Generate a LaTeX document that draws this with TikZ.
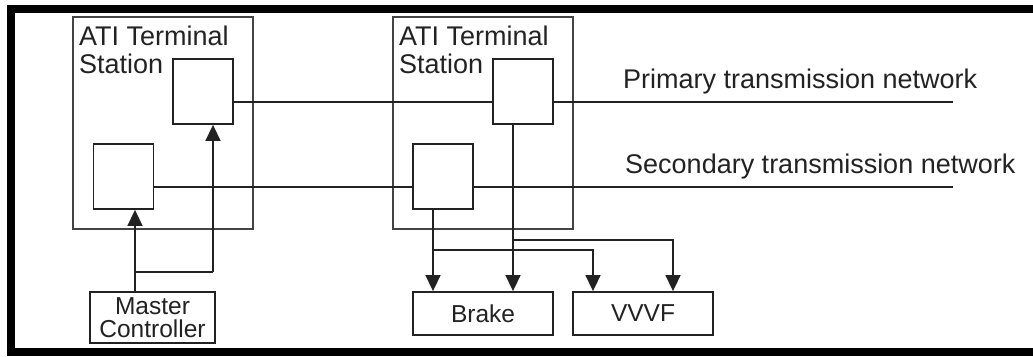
\documentclass[tikz,border=0pt]{standalone}
\usepackage{fontspec}
\setmainfont{Liberation Sans}
\usetikzlibrary{arrows.meta,calc}
\definecolor{cInk}{HTML}{222222}
\definecolor{cBox}{HTML}{444444}
\definecolor{cFrame}{HTML}{000000}

\begin{document}
\begin{tikzpicture}[x=1pt,y=-1pt,
  ar/.style={-{Triangle[length=16pt,width=15pt]},line width=1.5pt,color=cInk},
  net/.style={line width=1.5pt,color=cInk},
  station/.style={draw=cBox,line width=2pt,minimum width=180pt,minimum height=212pt,inner sep=0pt},
  unit/.style={draw=cInk,line width=1.8pt,minimum width=60pt,minimum height=65pt,inner sep=0pt},
  dev/.style={draw=cInk,line width=1.8pt,minimum width=140pt,minimum height=43pt,inner sep=0pt,
              font=\fontsize{24.5}{23}\selectfont,text=cInk,align=center},
  lbl/.style={inner sep=0pt,font=\fontsize{27}{28}\selectfont,color=cInk,align=left},
]
\useasboundingbox (0,0) rectangle (1033,356);

% ====================================================== frame
\draw[line width=8pt,color=cFrame] (1040,9) -- (11,9) -- (11,352) -- (1040,352);

% ====================================================== terminal stations
\node[station] (stA) at (163,123) {};
\node[station] (stB) at (483,123) {};
\node[lbl,anchor=north west] (tA) at ($(stA.north west)+(7,10)$) {ATI Terminal\\Station};
\node[lbl,anchor=north west] (tB) at ($(stB.north west)+(7,10)$) {ATI Terminal\\Station};

% units inside the stations
\node[unit] (uA) at (203,91.5) {};
\node[unit] (uC) at (123.5,176.5) {};
\node[unit] (uB) at (523,91.5) {};
\node[unit] (uD) at (443,176.5) {};

% -- devices
\node[dev,minimum width=125pt,minimum height=51pt] (mc) at (152.5,317.5) {Master\\Controller};
\node[dev] (brk) at (483,313.5) {Brake};
\node[dev] (vvvf) at (643,313.5) {VVVF};

% ====================================================== networks
\coordinate (pEnd) at (953,102);
\coordinate (sEnd) at (953,187);
\draw[net] (uA.east |- pEnd) -- (uB.west |- pEnd);
\draw[net] (uB.east |- pEnd) -- (pEnd);
\draw[net] (uC.east |- sEnd) -- (uD.west |- sEnd);
\draw[net] (uD.east |- sEnd) -- (sEnd);
\node[lbl,anchor=base west] (pLbl) at (623,88) {Primary transmission network};
\node[lbl,anchor=base west] (sLbl) at (625,173) {Secondary transmission network};

% master controller to the first station
\coordinate (jL) at (135,272);
\coordinate (jR) at (213,272);
\draw[net] (mc.north -| jL) -- (jL) -- (jR);
\draw[ar] (jL) -- (uC.south -| jL);
\draw[ar] (jR) -- (uA.south -| jR);

% second station to brake and VVVF
\coordinate (bL) at (433,250);
\coordinate (bR) at (513,240);
\draw[ar] (uD.south -| bL) -- (brk.north -| bL);
\draw[ar] (uB.south -| bR) -- (brk.north -| bR);
\draw[ar] (bL) -| ($(vvvf.north)+(-50,0)$);
\draw[ar] (bR) -| ($(vvvf.north)+(30,0)$);

\end{tikzpicture}
\end{document}
